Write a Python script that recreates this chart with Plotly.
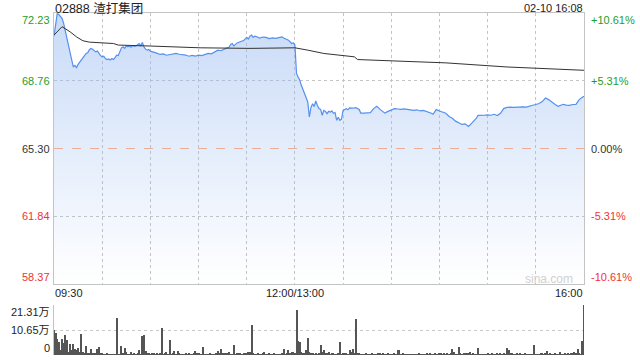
import plotly.graph_objects as go

W, H = 640, 360
title_text = "02888 渣打集团"
time_text = "02-10 16:08"

price_ticks = [72.23, 68.76, 65.30, 61.84, 58.37]
pct_labels = ["+10.61%", "+5.31%", "0.00%", "-5.31%", "-10.61%"]
tick_colors = ["#1f9e2a", "#1f9e2a", "#333333", "#f03333", "#f03333"]
prev_close = 65.30

x_tick_minutes = [0, 150, 330]
x_tick_labels = ["09:30", "12:00/13:00", "16:00"]

vol_ticks = [213100, 106550, 0]
vol_labels = ["21.31万", "10.65万", "0"]

price_minutes = [0,1,2,3,4,5,6,7,8,9,10,11,12,13,14,15,16,17,18,19,20,21,22,23,24,25,26,27,28,29,
                 30,31,32,33,34,35,36,37,38,39,40,41,42,43,44,45,46,47,48,49,50,51,52,53,54,55,56,57,58,59,
                 60,62,64,66,68,70,72,74,76,78,80,82,84,86,88,90,92,94,96,98,100,102,104,106,107,109,110,111,112,114,
                 116,118,120,121,122,123,124,125,126,128,130,132,134,136,138,140,142,143,145,146,148,149,150,
                 151,152,153,154,155,156,157,158,159,160,161,162,163,164,165,166,167,168,169,170,171,172,173,174,175,
                 176,177,178,179,180,181,182,183,184,186,188,190,191,193,195,197,199,201,203,205,206,208,210,212,214,
                 216,218,220,222,224,226,228,230,232,233,235,236,237,238,240,242,244,246,248,250,252,254,256,257,258,
                 259,261,263,264,266,268,270,272,274,276,278,280,282,284,286,288,290,292,294,296,298,300,302,304,306,
                 308,310,312,314,316,317,319,321,323,325,327,328,329,330]
price_values = [71.05,71.60,72.20,72.15,72.05,71.96,71.70,71.30,71.01,70.55,70.16,69.80,69.47,69.55,69.44,69.60,69.73,69.85,69.99,70.05,
                70.16,70.20,70.35,70.42,70.38,70.30,70.24,70.28,70.15,70.05,
                69.99,70.02,69.90,69.85,69.88,69.83,69.90,69.85,69.95,70.07,70.05,70.30,70.45,70.50,70.42,70.55,70.50,70.54,70.48,70.56,
                70.52,70.54,70.60,70.67,70.55,70.72,70.50,70.38,70.33,70.36,
                70.28,70.24,70.18,70.11,70.14,70.07,70.10,70.14,70.16,70.12,70.11,70.08,70.02,70.06,70.03,70.07,70.05,70.10,70.16,70.14,
                70.22,70.33,70.30,70.40,70.42,70.48,70.62,70.67,70.55,70.70,
                70.76,70.82,70.98,70.90,71.05,71.10,70.98,71.05,71.03,70.95,71.00,70.98,70.92,70.96,70.93,70.98,71.01,70.95,70.90,70.84,
                70.67,70.70,70.59,
                69.14,68.96,68.80,68.53,68.35,68.11,67.90,67.68,66.91,67.40,67.59,67.45,67.73,67.50,67.34,67.30,67.00,67.25,67.20,67.08,
                67.20,67.16,67.22,67.10,67.14,
                66.74,66.90,66.74,66.80,67.25,67.30,67.34,67.28,67.38,67.36,67.39,67.30,67.11,67.11,67.11,67.13,67.34,67.46,67.30,67.18,
                67.11,67.20,67.28,67.34,67.32,
                67.30,67.33,67.30,67.26,67.25,67.28,67.22,67.25,67.20,67.18,67.10,67.05,67.20,67.29,67.22,67.16,67.10,66.94,66.85,66.70,
                66.62,66.53,66.56,66.48,66.43,
                66.50,66.65,66.85,66.99,66.98,67.00,67.02,67.00,67.05,66.99,67.10,67.34,67.40,67.42,67.40,67.42,67.41,67.43,67.42,67.48,
                67.51,67.55,67.60,67.70,67.88,
                67.80,67.65,67.55,67.46,67.52,67.56,67.52,67.51,67.55,67.56,67.80,67.88,67.92,67.97]

avg_minutes = [0, 5, 10, 14, 18, 22, 37, 40, 60, 91, 122, 146, 150, 158, 168, 187, 189, 211, 244, 282, 307, 330]
avg_values = [71.10, 71.53, 71.27, 71.01, 70.81, 70.74, 70.67, 70.59, 70.54, 70.45, 70.42, 70.47, 70.45,
              70.33, 70.16, 69.99, 69.85, 69.78, 69.68, 69.47, 69.39, 69.30]

volume = [
    106500, 92300, 66700, 56800, 21300, 66700, 52500, 85200, 64000, 14200,
    46900, 21300, 46900, 24100, 21300, 28400, 14200, 89500, 14200, 7000,
    38300, 10000, 7000, 24100, 7000, 10000, 7000, 24100, 32700, 7000,
    7000, 4000, 3000, 5000, 3000, 2000, 4000, 3000, 2000, 156200,
    4000, 3000, 38300, 7000, 28400, 11000, 4000, 4000, 11000, 4000,
    7000, 3000, 5000, 21300, 4000, 81000, 85200, 17000, 5000, 7000,
    4000, 7000, 5000, 3000, 6000, 4000, 5000, 113600, 4000, 10000,
    14200, 3000, 64000, 4000, 7000, 17000, 4000, 17000, 7000, 4000,
    4000, 3000, 5000, 4000, 6000, 3000, 4000, 5000, 18500, 6000,
    10000, 4000, 3000, 32700, 3000, 4000, 2000, 5000, 3000, 4000,
    3000, 6000, 17000, 5000, 24100, 7000, 6000, 10000, 5000, 13000,
    4000, 3000, 42600, 4000, 6000, 5000, 10000, 4000, 6000, 10000,
    5000, 14000, 14000, 127800, 6000, 4000, 3000, 10000, 4000, 3000,
    5000, 11000, 4000, 3000, 6000, 4000, 3000, 5000, 4000, 3000,
    4000, 3000, 5000, 24100, 4000, 10000, 21300, 5000, 11000, 14000,
    10000, 191700, 61000, 56800, 14000, 7000, 5000, 21300, 71000, 14000,
    10000, 5000, 4000, 7000, 4000, 6000, 42600, 14000, 21300, 10000,
    7000, 14000, 4000, 5000, 7000, 3000, 4000, 6000, 56800, 4000,
    10000, 5000, 7000, 4000, 21300, 11000, 24100, 5000, 152000, 7000,
    5000, 4000, 4000, 3000, 5000, 4000, 3000, 4000, 5000, 3000,
    4000, 3000, 5000, 10000, 4000, 10000, 4000, 3000, 5000, 3000,
    4000, 3000, 5000, 3000, 21300, 21300, 4000, 7000, 3000, 2000,
    3000, 2000, 4000, 3000, 2000, 3000, 4000, 7000, 3000, 2000,
    3000, 4000, 7000, 3000, 5000, 4000, 3000, 7000, 4000, 3000,
    5000, 10000, 4000, 10000, 3000, 5000, 4000, 6000, 24100, 14000,
    3000, 4000, 32700, 7000, 4000, 10000, 5000, 10000, 6000, 14000,
    4000, 6000, 3000, 2000, 28400, 4000, 3000, 2000, 4000, 3000,
    5000, 3000, 4000, 5000, 3000, 4000, 5000, 3000, 10000, 4000,
    10000, 4000, 28400, 21300, 6000, 10000, 4000, 3000, 5000, 4000,
    10000, 3000, 4000, 5000, 3000, 4000, 3000, 2000, 4000, 42600,
    3000, 2000, 4000, 5000, 10000, 4000, 6000, 17000, 4000, 5000,
    3000, 4000, 6000, 4000, 3000, 11000, 4000, 3000, 5000, 4000,
    6000, 4000, 10000, 5000, 14000, 6000, 24100, 7000, 4000, 59600,
    213100,
]
vol_minutes = list(range(len(volume)))

FONT = "Liberation Sans, Arial, Noto Sans CJK SC, sans-serif"
x0, x1 = 54 / W, 584 / W
main_dom = [1 - 284 / H, 1 - 13 / H]
vol_dom = [1 - 355 / H, 1 - 305 / H]

fig = go.Figure()
fig.add_trace(go.Scatter(
    x=price_minutes, y=price_values, mode="lines",
    line=dict(color="#5590ee", width=1.2),
    fill="tozeroy",
    fillgradient=dict(type="vertical", start=price_ticks[-1], stop=price_ticks[0],
                      colorscale=[[0, "rgba(150,185,240,0)"], [1, "rgba(150,185,240,0.52)"]]),
    xaxis="x", yaxis="y", hoverinfo="skip"))
fig.add_trace(go.Scatter(
    x=avg_minutes, y=avg_values, mode="lines",
    line=dict(color="#333333", width=1),
    xaxis="x", yaxis="y", hoverinfo="skip"))
fig.add_trace(go.Bar(
    x=vol_minutes, y=volume, width=0.62, marker=dict(color="#555555", line=dict(width=0)),
    xaxis="x2", yaxis="y2", cliponaxis=False, hoverinfo="skip"))

grid_x = list(range(30, 330, 30))
fig.update_layout(
    width=W, height=H, margin=dict(l=0, r=0, t=0, b=0),
    paper_bgcolor="white", plot_bgcolor="white", showlegend=False,
    font=dict(family=FONT, color="#333333", size=11),
    bargap=0,
    xaxis=dict(domain=[x0, x1], range=[0, 330], anchor="y",
               tickvals=grid_x, showticklabels=False, ticks="",
               showgrid=True, gridcolor="#c4c4c4", griddash="dot", gridwidth=1,
               showline=True, mirror=True, linecolor="#c4c4c4", linewidth=1, zeroline=False),
    yaxis=dict(domain=main_dom, range=[price_ticks[-1], price_ticks[0]], anchor="x",
               tickvals=[price_ticks[1], price_ticks[3]], showticklabels=False, ticks="",
               showgrid=True, gridcolor="#c4c4c4", griddash="dot", gridwidth=1,
               showline=True, mirror=True, linecolor="#c4c4c4", linewidth=1, zeroline=False),
    xaxis2=dict(domain=[x0, x1], range=[0, 330], anchor="y2",
                showticklabels=False, ticks="", showgrid=False, showline=False, zeroline=False),
    yaxis2=dict(domain=vol_dom, range=[0, vol_ticks[0]], anchor="x2",
                tickvals=vol_ticks[:2], showticklabels=False, ticks="",
                showgrid=True, gridcolor="#c8c8c8", griddash="dot", gridwidth=1,
                showline=True, linecolor="#c4c4c4", linewidth=1, zeroline=False),
)

fig.add_shape(type="line", xref="x", yref="y", x0=0, x1=330, y0=prev_close, y1=prev_close,
              line=dict(color="#e9ad98", width=1, dash="dash"), layer="above")

ann = []
anchors = ["top", "middle", "middle", "middle", "bottom"]
for v, pl, c, a in zip(price_ticks, pct_labels, tick_colors, anchors):
    ann.append(dict(x=51 / W, xref="paper", y=v, yref="y", text=f"{v:.2f}", xanchor="right",
                    yanchor=a, showarrow=False, font=dict(size=11, color=c)))
    ann.append(dict(x=590 / W, xref="paper", y=v, yref="y", text=pl, xanchor="left",
                    yanchor=a, showarrow=False, font=dict(size=11, color=c)))
xanchors = ["left", "center", "right"]
for m, lab, xa in zip(x_tick_minutes, x_tick_labels, xanchors):
    ann.append(dict(x=m, xref="x", y=1 - 293 / H, yref="paper", text=lab, xanchor=xa,
                    yanchor="middle", showarrow=False, font=dict(size=11, color="#222222")))
vanchors = ["top", "middle", "bottom"]
for v, lab, a in zip(vol_ticks, vol_labels, vanchors):
    ann.append(dict(x=51 / W, xref="paper", y=v, yref="y2", text=lab, xanchor="right",
                    yanchor=a, showarrow=False, font=dict(size=11, color="#222222")))
ann.append(dict(x=x0, xref="paper", y=1 - 8 / H, yref="paper", text=title_text, xanchor="left",
                yanchor="middle", showarrow=False, font=dict(size=12.5, color="#222222")))
ann.append(dict(x=x1, xref="paper", y=1 - 8 / H, yref="paper", text=time_text, xanchor="right",
                yanchor="middle", showarrow=False, font=dict(size=11, color="#222222")))
ann.append(dict(x=574 / W, xref="paper", y=1 - 279 / H, yref="paper", text="sina.com", xanchor="right",
                yanchor="middle", showarrow=False, font=dict(size=12, color="#d0d0d0")))
for a in ann:
    a.setdefault("borderpad", 0)
fig.update_layout(annotations=ann)

fig.write_html("out.html")
